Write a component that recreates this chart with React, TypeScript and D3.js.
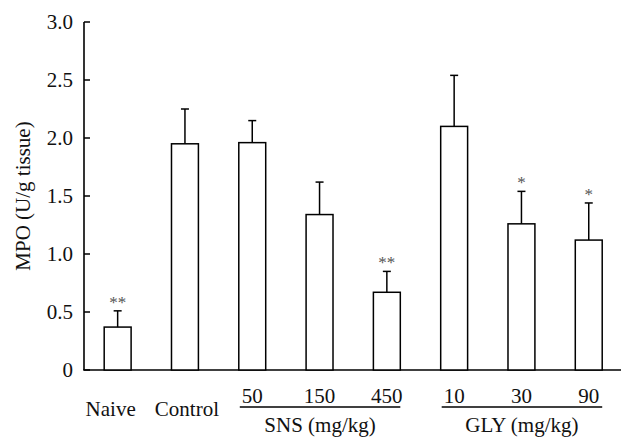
import React from "react";
import * as d3 from "d3";

const categories = ["Naive", "Control", "SNS50", "SNS150", "SNS450", "GLY10", "GLY30", "GLY90"];
const tickLabels = ["Naive", "Control", "50", "150", "450", "10", "30", "90"];
const means = [0.37, 1.95, 1.96, 1.34, 0.67, 2.1, 1.26, 1.12];
const errors = [0.14, 0.3, 0.19, 0.28, 0.18, 0.44, 0.28, 0.32];
const stars = ["**", "", "", "", "**", "", "*", "*"];
const groupLabels = ["SNS (mg/kg)", "GLY (mg/kg)"];
const groupMembers = [
  ["SNS50", "SNS150", "SNS450"],
  ["GLY10", "GLY30", "GLY90"],
];
const yTicks = [0, 0.5, 1.0, 1.5, 2.0, 2.5, 3.0];

const width = 621;
const height = 438;
const left = 84;
const top = 22;
const bottom = 370;
const font = "'Liberation Serif', 'Times New Roman', serif";

export default function App() {
  const x = d3
    .scaleBand()
    .domain(categories)
    .range([left, left + 8 * 67.3])
    .paddingInner(0.6)
    .paddingOuter(0.3);

  const y = d3.scaleLinear().domain([0, 3]).range([bottom, top]);
  const fmt = (d) => (d === 0 ? "0" : d3.format(".1f")(d));
  const bw = x.bandwidth();

  return (
    <svg
      width={width}
      height={height}
      style={{ position: "absolute", left: 0, top: 0, background: "#fff" }}
      fontFamily={font}
    >
      {/* axes */}
      <line x1={left} x2={left} y1={top} y2={bottom} stroke="#000" strokeWidth={1.6} />
      <line x1={left - 0.8} x2={width} y1={bottom} y2={bottom} stroke="#000" strokeWidth={1.6} />
      {yTicks.map((t) => (
        <g key={t}>
          <line x1={left} x2={left + 6} y1={y(t)} y2={y(t)} stroke="#000" strokeWidth={1.5} />
          <text x={left - 11} y={y(t)} dy="0.35em" textAnchor="end" fontSize={21} fill="#111">
            {fmt(t)}
          </text>
        </g>
      ))}
      <text
        transform={`translate(23,${(top + bottom) / 2}) rotate(-90)`}
        textAnchor="middle"
        dy="0.35em"
        fontSize={21}
        fill="#111"
      >
        MPO (U/g tissue)
      </text>

      {/* bars */}
      {categories.map((c, i) => {
        const x0 = x(c);
        const cx = x0 + bw / 2;
        const yTop = y(means[i]);
        const yErr = y(means[i] + errors[i]);
        return (
          <g key={c}>
            <rect
              x={x0}
              y={yTop}
              width={bw}
              height={bottom - yTop}
              fill="#fff"
              stroke="#000"
              strokeWidth={1.5}
            />
            <line x1={cx} x2={cx} y1={yTop} y2={yErr} stroke="#000" strokeWidth={1.5} />
            <line x1={cx - 4} x2={cx + 4} y1={yErr} y2={yErr} stroke="#000" strokeWidth={1.5} />
            {stars[i] && (
              <text x={cx} y={yErr - 3} textAnchor="middle" fontSize={17} fill="#555">
                {stars[i]}
              </text>
            )}
            <text
              x={cx + (i === 0 ? -7 : i === 1 ? 2 : 0)}
              y={i < 2 ? 416 : 403}
              textAnchor="middle"
              fontSize={21}
              fill="#111"
            >
              {tickLabels[i]}
            </text>
          </g>
        );
      })}

      {/* dose groups */}
      {groupLabels.map((g, gi) => {
        const m = groupMembers[gi];
        const x1 = x(m[0]) + 1;
        const x2 = x(m[m.length - 1]) + bw;
        return (
          <g key={g}>
            <line x1={x1} x2={x2} y1={407} y2={407} stroke="#000" strokeWidth={1.5} />
            <text x={(x1 + x2) / 2} y={432} textAnchor="middle" fontSize={21} fill="#111">
              {g}
            </text>
          </g>
        );
      })}
    </svg>
  );
}
